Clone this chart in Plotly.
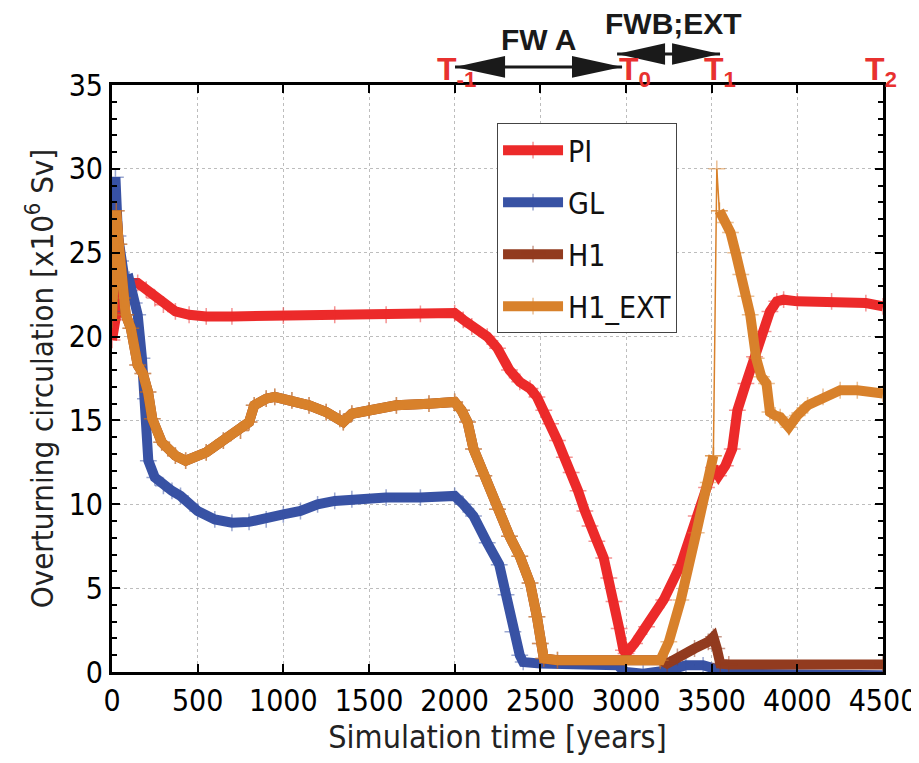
import plotly.graph_objects as go

# ---------------- data ----------------
PI_years = [0, 20, 40, 70, 100, 150, 200, 250, 300, 370, 450, 550, 700, 1000, 1300, 1600, 1800, 2000,
            2050, 2100, 2190, 2250, 2320, 2380, 2440, 2480, 2520, 2560, 2600, 2640, 2680, 2720, 2760,
            2790, 2830, 2870, 2900, 2930, 2960, 2985, 3000, 3050, 3120, 3220, 3320, 3410, 3470, 3510,
            3540, 3580, 3620, 3650, 3700, 3750, 3800, 3840, 3880, 3920, 4000, 4200, 4400, 4500]
PI_vals = [19.8, 21.0, 22.2, 22.8, 23.2, 23.2, 22.8, 22.3, 21.9, 21.5, 21.3, 21.2, 21.2, 21.25, 21.3, 21.3, 21.35, 21.4,
           21.0, 20.6, 20.0, 19.3, 18.0, 17.3, 16.9, 16.4, 15.6, 14.8, 13.8, 12.8, 11.9, 10.8, 9.6,
           8.7, 7.8, 6.8, 5.6, 4.2, 2.6, 1.3, 1.1, 1.7, 2.7, 4.3, 6.4, 9.3, 11.0, 12.2,
           11.7, 12.3, 13.3, 15.6, 17.2, 18.8, 20.3, 21.5, 22.1, 22.2, 22.1, 22.1, 22.0, 21.8]

GL_years = [0, 10, 20, 35, 50, 75, 100, 130, 150, 175, 195, 212, 250, 300, 350, 400, 500, 600, 700, 800,
            900, 1000, 1100, 1200, 1300, 1400, 1600, 1800, 2000, 2050, 2110, 2190, 2260, 2300, 2340, 2380,
            2400, 2500, 2950, 3000, 3100, 3250, 3350, 3450, 3550, 3600, 4500]
GL_vals = [21.5, 24.0, 29.5, 26.0, 24.5, 23.3, 23.4, 22.0, 21.3, 18.7, 16.3, 12.6, 11.6, 11.1, 10.8, 10.5, 9.6, 9.1, 8.9, 8.95,
           9.1, 9.4, 9.6, 10.0, 10.2, 10.3, 10.4, 10.4, 10.5, 10.0, 9.3, 7.7, 6.4, 4.6, 2.4, 1.0,
           0.6, 0.5, 0.4, 0.0, -0.1, 0.1, 0.4, 0.4, 0.1, -0.1, -0.2]

H1_EXT_years = [0, 10, 25, 40, 60, 80, 110, 150, 180, 210, 235, 290, 370, 430, 550, 650, 750, 800, 830, 900,
                950, 1050, 1150, 1250, 1330, 1350, 1400, 1500, 1660, 1850, 2000, 2040, 2075, 2110, 2170, 2250,
                2320, 2380, 2440, 2480, 2500, 2520, 2600, 3200, 3250, 3320, 3410, 3480, 3510,
                None,
                3545, 3580, 3610, 3640, 3670, 3700, 3725, 3760, 3790, 3820, 3840, 3870, 3900, 3950, 3970,
                4000, 4060, 4150, 4250, 4350, 4500]
H1_EXT_vals = [21.0, 23.5, 27.5, 25.5, 22.3, 21.3, 20.5, 18.3, 17.8, 16.7, 15.1, 13.7, 12.9, 12.6, 13.1, 13.8, 14.4, 14.9, 15.9, 16.3,
               16.4, 16.2, 15.9, 15.5, 15.1, 14.9, 15.4, 15.6, 15.9, 16.0, 16.1, 15.6, 14.9, 13.3, 11.7, 9.7,
               8.1, 6.9, 5.3, 3.3, 1.7, 0.8, 0.7, 0.7, 1.8, 4.3, 8.3, 11.3, 12.9,
               None,
               27.5, 26.8, 26.2, 25.0, 23.7, 22.4, 21.3, 18.7, 17.6, 17.2, 15.5, 15.3, 15.2, 14.6, 15.0,
               15.3, 15.9, 16.4, 16.8, 16.8, 16.6]
# the short, thin spike of H1_EXT
H1_EXT_spike_years = [3510, 3530, 3545]
H1_EXT_spike_vals = [12.9, 30.0, 27.5]

# H1 follows H1_EXT until ~3200 yr, then separates
H1_years = H1_EXT_years[:44] + [3240, 3300, 3400, 3480, 3510, 3530, 3550, 3600, 4500]
H1_vals = H1_EXT_vals[:44] + [0.5, 0.9, 1.4, 1.8, 2.1, 1.4, 0.5, 0.45, 0.45]

x_ticks = [0, 500, 1000, 1500, 2000, 2500, 3000, 3500, 4000, 4500]
y_ticks = [0, 5, 10, 15, 20, 25, 30, 35]

# T markers along the top
T_years = [2000, 3000, 3500, 4500]
T_labels = ["T<sub>-1</sub>", "T<sub>0</sub>", "T<sub>1</sub>", "T<sub>2</sub>"]
T_shift = [-20, -9, -10, -20]

# ---------------- styling ----------------
RED = "#EC2A2A"
BLUE = "#3852A4"
BROWN = "#923B1F"
ORANGE = "#D8812B"
FONT = "DejaVu Sans Condensed, Liberation Sans Narrow, sans-serif"
BOLD = "Liberation Sans, Arial, sans-serif"

# the page body has an 8px margin: size the figure so it reaches the 919x763 window edges
PAGE_PAD = 8
FIG_W, FIG_H = 919 - PAGE_PAD, 763 - PAGE_PAD


def marker(col):
    return dict(symbol="cross-thin", size=12, color=col, line=dict(width=1.5, color=col), opacity=0.5)


fig = go.Figure()
series = [("PI", PI_years, PI_vals, RED), ("GL", GL_years, GL_vals, BLUE),
          ("H1", H1_years, H1_vals, BROWN), ("H1_EXT", H1_EXT_years, H1_EXT_vals, ORANGE)]
for name, xs, ys, col in series:
    fig.add_trace(go.Scatter(x=xs, y=ys, name=name, mode="lines+markers",
                             line=dict(color=col, width=10), marker=marker(col),
                             legendgroup=name, connectgaps=False))
fig.add_trace(go.Scatter(x=H1_EXT_spike_years, y=H1_EXT_spike_vals, mode="lines+markers",
                         line=dict(color=ORANGE, width=1.5), marker=marker(ORANGE),
                         showlegend=False, legendgroup="H1_EXT"))

axis_common = dict(showline=True, linecolor="black", linewidth=3, mirror="allticks",
                   ticks="inside", ticklen=8, tickwidth=2, tickcolor="black",
                   showgrid=True, gridcolor="#bdbdbd", griddash="dot", gridwidth=1,
                   zeroline=False, automargin=False, ticklabeloverflow="allow")

fig.update_xaxes(range=[0, 4500], tickvals=x_ticks, ticktext=[str(v) for v in x_ticks],
                 tickfont=dict(family=FONT, size=30, color="black"),
                 title=dict(text="Simulation time [years]", font=dict(family=FONT, size=32, color="#222"),
                            standoff=4),
                 **axis_common)
fig.update_yaxes(range=[0, 35], tickvals=y_ticks, ticktext=[str(v) for v in y_ticks],
                 tickfont=dict(family=FONT, size=30, color="black"),
                 minor=dict(dtick=1, ticks="inside", ticklen=5, tickcolor="black", showgrid=False),
                 title=dict(text="Overturning circulation [x10<sup>6</sup> Sv]",
                            font=dict(family=FONT, size=31, color="#222"), standoff=6),
                 **axis_common)

# T labels
for yr, lab, sh in zip(T_years, T_labels, T_shift):
    fig.add_annotation(x=yr, y=0.985, xref="x", yref="paper", text="<b>" + lab + "</b>",
                       showarrow=False, xanchor="left", yanchor="bottom", xshift=sh,
                       font=dict(family=BOLD, size=32, color="#E8312F"))

# arrow texts
fig.add_annotation(x=2493, y=1.078, xref="x", yref="paper", text="<b>FW A</b>", showarrow=False,
                   yanchor="middle", font=dict(family=BOLD, size=30, color="#1a1a1a"))
fig.add_annotation(x=3275, y=1.104, xref="x", yref="paper", text="<b>FWB;EXT</b>", showarrow=False,
                   yanchor="middle", font=dict(family=BOLD, size=30, color="#1a1a1a"))


def double_arrow(x0, x1, xb0, xb1, y, hh):
    return [dict(type="line", xref="x", yref="paper", x0=x0, x1=x1, y0=y, y1=y,
                 line=dict(color="#1a1a1a", width=3), layer="above"),
            dict(type="path", xref="x", yref="paper", layer="above",
                 path=f"M {x0},{y} L {xb0},{y + hh} L {xb0},{y - hh} Z",
                 fillcolor="#1a1a1a", line=dict(width=0)),
            dict(type="path", xref="x", yref="paper", layer="above",
                 path=f"M {x1},{y} L {xb1},{y + hh} L {xb1},{y - hh} Z",
                 fillcolor="#1a1a1a", line=dict(width=0))]


shapes = double_arrow(2002, 2977, 2294, 2685, 1.0307, 0.0185) + \
    double_arrow(2948, 3549, 3228, 3269, 1.0528, 0.0185)

fig.update_layout(
    shapes=shapes,
    width=FIG_W, height=FIG_H,
    margin=dict(l=112 - PAGE_PAD, r=36, t=85 - PAGE_PAD, b=91),
    paper_bgcolor="white", plot_bgcolor="white",
    font=dict(family=FONT, color="black"),
    legend=dict(x=0.4994, y=0.935, xanchor="left", yanchor="top",
                bgcolor="white", bordercolor="#444", borderwidth=1,
                font=dict(family=FONT, size=30, color="#111"),
                itemwidth=60, tracegroupgap=10),
)

fig.write_html("out.html")
